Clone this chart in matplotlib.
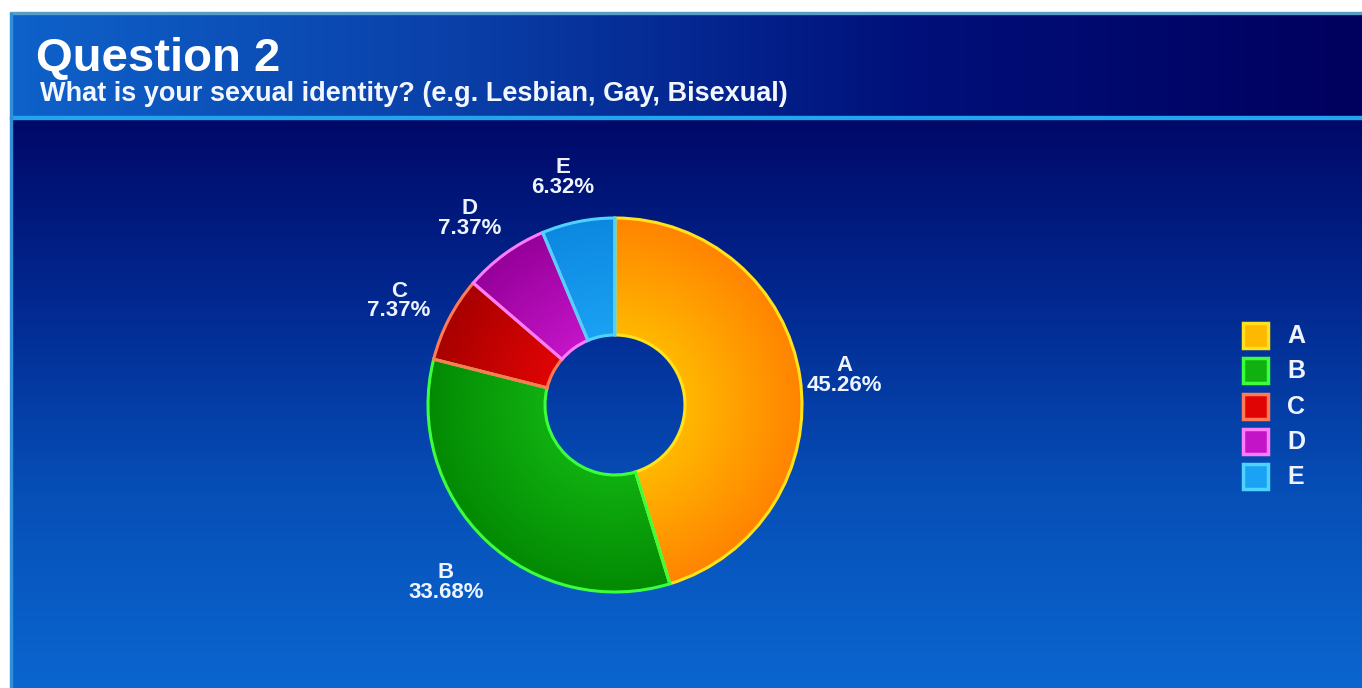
import numpy as np
import matplotlib
matplotlib.use("Agg")
import matplotlib.pyplot as plt
from matplotlib.colors import LinearSegmentedColormap
from matplotlib.patches import Rectangle

plt.rcParams["font.family"] = ["Liberation Sans", "DejaVu Sans"]
plt.rcParams["font.weight"] = "bold"

# --------------------------
# Data
# --------------------------
title = "Question 2"
subtitle = "What is your sexual identity? (e.g. Lesbian, Gay, Bisexual)"
categories = ["A", "B", "C", "D", "E"]
percents = [45.26, 33.68, 7.37, 7.37, 6.32]

# per-slice shading: (inner colour, outer colour, border colour)
light_colors = ["#ffb800", "#10b010", "#e00404", "#c414c8", "#1aa2f4"]
dark_colors = ["#ff8400", "#038a03", "#a80000", "#96009a", "#0c88e0"]
edge_colors = ["#ffe21a", "#3cff3c", "#ff7a55", "#ff7cff", "#4fd2ff"]

W, H = 1362, 688
fig = plt.figure(figsize=(W / 100, H / 100), dpi=100)
fig.patch.set_facecolor("white")

# --------------------------
# Slide background
# --------------------------
bg = fig.add_axes([0, 0, 1, 1])
bg.axis("off")

left, top, band_bottom = 10, 13, 116

# header band: horizontal gradient
head_cmap = LinearSegmentedColormap.from_list("head", ["#0e62ca", "#0a3fa8", "#00107a", "#00005e"])
bg.imshow(np.linspace(0, 1, 256)[None, :], cmap=head_cmap, aspect="auto",
          extent=(left, W, band_bottom, top), zorder=0)

# body: vertical gradient
body_cmap = LinearSegmentedColormap.from_list("body", ["#000868", "#022a92", "#0650b8", "#0b66cf"])
bg.imshow(np.linspace(0, 1, 256)[:, None], cmap=body_cmap, aspect="auto",
          extent=(left, W, H, band_bottom + 3), zorder=0)

bg.add_patch(Rectangle((left, band_bottom), W - left, 3, color="#22a4ee", zorder=1))
bg.add_patch(Rectangle((left, top - 1), W - left, 2, color="#5a9cc8", zorder=1))
bg.add_patch(Rectangle((left, top), 2, H - top, color="#2f8fd8", zorder=1))

bg.text(36, 71, title, color="white", fontsize=34, fontweight="bold", va="baseline")
bg.text(40, 101, subtitle, color="#f2f6ff", fontsize=19.5, fontweight="bold", va="baseline")

# --------------------------
# Legend
# --------------------------
for i, (cat, lc, ec) in enumerate(zip(categories, light_colors, edge_colors)):
    y = 335 + i * 35.3
    bg.add_patch(Rectangle((1243, y - 12), 25, 25, facecolor=lc, edgecolor=ec,
                           linewidth=2.5, zorder=2))
    bg.text(1287, y + 1, cat, color="#eef4ff", fontsize=18, fontweight="bold",
            va="center", ha="left")

bg.set_xlim(0, W)
bg.set_ylim(H, 0)

# --------------------------
# Donut
# --------------------------
cx, cy, R = 615, 405, 187
half = 300
ax = fig.add_axes([(cx - half) / W, 1 - (cy + half) / H, 2 * half / W, 2 * half / H])
ax.axis("off")

inner = 70 / R
wedges, _ = ax.pie(percents, startangle=90, counterclock=False, radius=1,
                   wedgeprops=dict(width=1 - inner, linewidth=0))

# radial shading inside each slice
gx, gy = np.meshgrid(np.linspace(-1, 1, 600), np.linspace(-1, 1, 600))
rr = np.clip((np.hypot(gx, gy) - inner) / (1 - inner), 0, 1)
for w, lc, dc, ec in zip(wedges, light_colors, dark_colors, edge_colors):
    w.set_facecolor("none")
    cmap = LinearSegmentedColormap.from_list("s", [lc, dc])
    im = ax.imshow(rr, cmap=cmap, extent=(-1, 1, -1, 1), origin="lower",
                   interpolation="bilinear", zorder=1)
    im.set_clip_path(w)
    w.set_edgecolor(ec)
    w.set_linewidth(2.2)
    w.set_zorder(2)

# labels just outside each slice, centred on its mid angle
label_r = 1.27
for w, cat, p in zip(wedges, categories, percents):
    ang = np.deg2rad((w.theta1 + w.theta2) / 2)
    ax.text(label_r * np.cos(ang) - 0.03, label_r * np.sin(ang) - 0.03, f"{cat}\n{p:.2f}%",
            ha="center", va="center", color="#eef4ff", fontsize=16,
            fontweight="bold", linespacing=0.92, zorder=3)

lim = half / R
ax.set_xlim(-lim, lim)
ax.set_ylim(-lim, lim)
ax.set_aspect("equal")

fig.savefig("out.png", dpi=100, facecolor=fig.get_facecolor())
